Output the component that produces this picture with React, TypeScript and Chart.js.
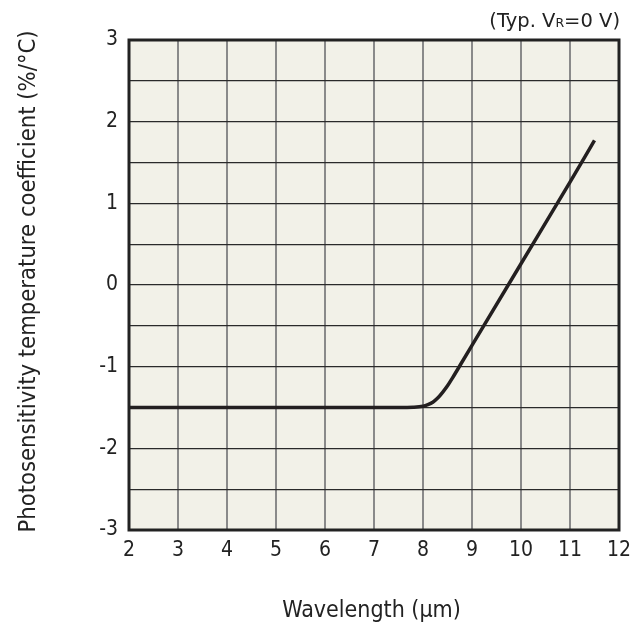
import React, { useEffect, useRef } from "react";
import { Chart, registerables } from "chart.js";

Chart.register(...registerables);

const wavelengthUm = [2, 4, 6, 7.5, 7.8, 8.0, 8.1, 8.2, 8.3, 8.4, 8.5, 8.6, 8.8, 9.0, 10.0, 11.0, 11.5];
const tempCoeff = [-1.5, -1.5, -1.5, -1.5, -1.497, -1.485, -1.465, -1.435, -1.385, -1.315, -1.235, -1.14, -0.94, -0.74, 0.26, 1.26, 1.77];
const xTicks = [2, 3, 4, 5, 6, 7, 8, 9, 10, 11, 12];
const yTicks = [-3, -2, -1, 0, 1, 2, 3];

const FONT = "'DejaVu Sans Condensed', 'DejaVu Sans', sans-serif";
const FONT_WIDE = "'DejaVu Sans', Verdana, sans-serif";

const framePlugin = {
  id: "frame",
  beforeDraw(chart: any) {
    const { ctx, chartArea: a } = chart;
    ctx.save();
    ctx.fillStyle = "#f2f1e8";
    ctx.fillRect(a.left, a.top, a.right - a.left, a.bottom - a.top);
    ctx.restore();
  },
  afterDraw(chart: any) {
    const { ctx, chartArea: a } = chart;
    ctx.save();
    ctx.strokeStyle = "#222222";
    ctx.lineWidth = 3;
    ctx.strokeRect(a.left, a.top, a.right - a.left, a.bottom - a.top);

    ctx.fillStyle = "#222222";
    // x title
    ctx.font = `23px ${FONT}`;
    ctx.textAlign = "center";
    ctx.textBaseline = "alphabetic";
    ctx.fillText("Wavelength (μm)", 371.5, 617);
    // y title
    ctx.save();
    ctx.font = `23.6px ${FONT}`;
    ctx.translate(35, 281.5);
    ctx.rotate(-Math.PI / 2);
    ctx.fillText("Photosensitivity temperature coefficient (%/°C)", 0, 0);
    ctx.restore();
    // annotation
    ctx.textAlign = "left";
    const big = `19.5px ${FONT_WIDE}`;
    const small = `12.5px ${FONT_WIDE}`;
    const parts: [string, string][] = [["(Typ. V", big], ["R", small], ["=0 V)", big]];
    let total = 0;
    for (const [t, f] of parts) { ctx.font = f; total += ctx.measureText(t).width; }
    let x = a.right + 1 - total;
    for (const [t, f] of parts) { ctx.font = f; ctx.fillText(t, x, 27); x += ctx.measureText(t).width; }
    ctx.restore();
  },
};

export default function App() {
  const ref = useRef<HTMLCanvasElement | null>(null);
  useEffect(() => {
    if (!ref.current) return;
    const chart = new Chart(ref.current, {
      type: "line",
      data: {
        datasets: [
          {
            data: wavelengthUm.map((x, i) => ({ x, y: tempCoeff[i] })),
            borderColor: "#231f20",
            borderWidth: 3.5,
            pointRadius: 0,
            cubicInterpolationMode: "monotone",
            fill: false,
          },
        ],
      },
      options: {
        animation: false,
        responsive: true,
        maintainAspectRatio: false,
        layout: { padding: { top: 40, right: 24, left: 0, bottom: 0 } },
        plugins: { legend: { display: false }, tooltip: { enabled: false } },
        scales: {
          x: {
            type: "linear",
            min: 2,
            max: 12,
            afterFit: (s: any) => { s.height = 98; },
            afterBuildTicks: (s: any) => { s.ticks = xTicks.map((v) => ({ value: v })); },
            ticks: { stepSize: 1, font: { family: FONT, size: 21 }, color: "#222222", padding: 8 },
            grid: { color: "#8a8a8a", lineWidth: 2, drawTicks: false },
            border: { display: false },
          },
          y: {
            type: "linear",
            min: -3,
            max: 3,
            afterFit: (s: any) => { s.width = 129; },
            ticks: {
              stepSize: 0.5,
              autoSkip: false,
              font: { family: FONT, size: 21 },
              color: "#222222",
              padding: 11,
              callback: (v: any) => (yTicks.includes(Number(v)) ? String(v) : ""),
            },
            grid: { color: "#2a2a2a", lineWidth: 1.3, drawTicks: false },
            border: { display: false },
          },
        },
      },
      plugins: [framePlugin],
    });
    return () => chart.destroy();
  }, []);
  return (
    <div style={{ position: "fixed", left: 0, top: 0, width: 643, height: 628 }}>
      <canvas ref={ref} />
    </div>
  );
}
